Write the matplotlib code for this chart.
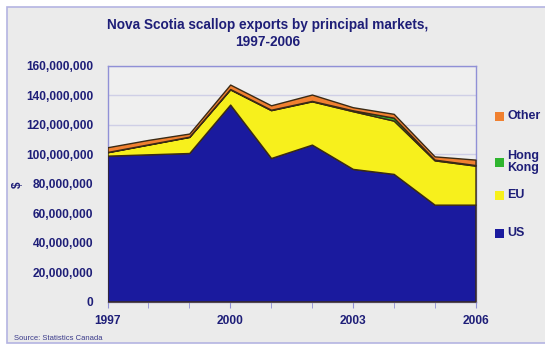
import matplotlib
matplotlib.use("Agg")
import matplotlib.pyplot as plt
from matplotlib.patches import Rectangle
from matplotlib.ticker import FuncFormatter, MultipleLocator

# Nova Scotia scallop exports by market, dollars (millions)
years = [1997, 1998, 1999, 2000, 2001, 2002, 2003, 2004, 2005, 2006]
us = [99.1, 100.0, 100.9, 133.8, 97.5, 106.6, 90.1, 86.7, 65.8, 65.8]
eu = [2.3, 6.6, 10.9, 10.3, 32.5, 29.4, 39.2, 36.2, 30.1, 26.5]
hong_kong = [0.2, 0.2, 0.2, 0.3, 0.3, 0.3, 0.6, 2.0, 0.5, 0.4]
other = [3.2, 3.0, 2.1, 3.0, 3.0, 4.3, 2.1, 2.6, 2.2, 3.7]
series_names = ["US", "EU", "Hong\nKong", "Other"]
year_labels = [1997, 2000, 2003, 2006]

colors = ["#1a1a9e", "#f7f01c", "#2fb52f", "#f08030"]
navy = "#1e1e78"
W, H = 545, 347

plt.rcParams["font.family"] = ["Liberation Sans", "DejaVu Sans"]
fig = plt.figure(figsize=(W / 100, H / 100), dpi=100)
fig.patch.set_facecolor("white")

# outer panel
fig.patches.append(Rectangle((7 / W, 4 / H), (W - 6) / W, (H - 11) / H,
                             transform=fig.transFigure, facecolor="#ebebeb",
                             edgecolor="#b4b4e2", linewidth=1.2, zorder=-10))

x0, x1, y_top, y_bot = 107.5, 475.5, 66, 301.5
ax = fig.add_axes([x0 / W, (H - y_bot) / H, (x1 - x0) / W, (y_bot - y_top) / H])
ax.set_zorder(1)
ax.set_facecolor("#efefef")

vals = [[v * 1e6 for v in s] for s in (us, eu, hong_kong, other)]
ax.stackplot(years, *vals, colors=colors, edgecolor="#3a2a14", linewidth=1.0, zorder=3)

ax.set_xlim(1997, 2006)
ax.set_ylim(0, 160e6)
ax.yaxis.set_major_locator(MultipleLocator(20e6))
ax.yaxis.set_major_formatter(FuncFormatter(lambda v, p: f"{int(v):,}"))
ax.set_xticks(year_labels)
ax.set_xticks(years, minor=True)
ax.grid(axis="y", color="#cfcfe6", linewidth=1.0, zorder=1)
ax.set_axisbelow(True)

for sp in ax.spines.values():
    sp.set_color("#9090d6")
    sp.set_linewidth(1.0)

ax.tick_params(axis="y", length=0, pad=10, labelsize=8.6, labelcolor=navy)
ax.tick_params(axis="x", which="major", length=4, color="#9090d6", pad=6,
               labelsize=8.6, labelcolor=navy)
ax.tick_params(axis="x", which="minor", length=4, color="#9090d6")
for lab in ax.get_xticklabels() + ax.get_yticklabels():
    lab.set_fontweight("bold")

fig.text(18 / W, 1 - 185 / H, "$", rotation=90, ha="center", va="center",
         fontsize=8.6, fontweight="bold", color=navy)

fig.text(268 / W, 1 - 33.5 / H, "Nova Scotia scallop exports by principal markets,\n1997-2006",
         ha="center", va="center", fontsize=9.8, fontweight="bold", color=navy,
         linespacing=1.3)

# legend
legend_y = [233, 195, 162, 116]
for name, c, ly in zip(series_names, colors, legend_y):
    fig.patches.append(Rectangle((495 / W, 1 - (ly + 4.5) / H), 9 / W, 9 / H,
                                 transform=fig.transFigure, facecolor=c,
                                 edgecolor="none", zorder=2))
    fig.text(507 / W, 1 - ly / H, name, ha="left", va="center", fontsize=9,
             fontweight="bold", color=navy, linespacing=0.95)

fig.text(14 / W, 1 - 339 / H, "Source: Statistics Canada", ha="left", va="center",
         fontsize=5.5, color="#3a3a8a")

fig.savefig("out.png", dpi=100, facecolor=fig.get_facecolor())
